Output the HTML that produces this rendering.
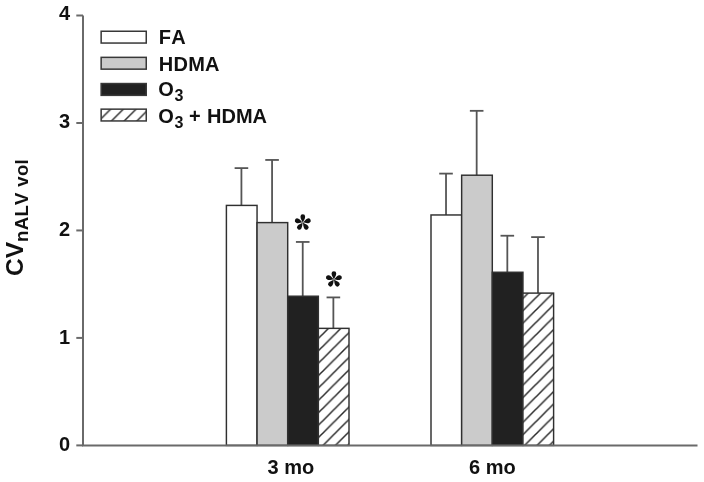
<!DOCTYPE html>
<html><head><meta charset="utf-8"><style>
html,body{margin:0;padding:0;background:#fff;}
svg{display:block;filter:blur(0.35px);}
text{font-family:"Liberation Sans", sans-serif;font-weight:bold;fill:#111;font-kerning:none;}
</style></head><body>
<svg width="704" height="482" viewBox="0 0 704 482">
<defs>
<pattern id="hatch3" patternUnits="userSpaceOnUse" x="12.0" y="0" width="12.4" height="12.4"><rect width="12.4" height="12.4" fill="#fff"/><path d="M-2,2 L2,-2 M-2,14.4 L14.4,-2 M10.4,14.4 L14.4,10.4" stroke="#2a2a2a" stroke-width="1.5"/></pattern>
<pattern id="hatch6" patternUnits="userSpaceOnUse" x="2.8" y="0" width="12.4" height="12.4"><rect width="12.4" height="12.4" fill="#fff"/><path d="M-2,2 L2,-2 M-2,14.4 L14.4,-2 M10.4,14.4 L14.4,10.4" stroke="#2a2a2a" stroke-width="1.5"/></pattern>
<pattern id="hatch2" patternUnits="userSpaceOnUse" x="3.9" y="0" width="12.7" height="12.7"><rect width="12.7" height="12.7" fill="#fff"/><path d="M-2,2 L2,-2 M-2,14.7 L14.7,-2 M10.7,14.7 L14.7,10.7" stroke="#2a2a2a" stroke-width="1.4"/></pattern>
<path id="petal" d="M0,0 C-0.4,-1.6 -2.35,-3.6 -2.35,-5.9 A2.35,2.35 0 0 1 2.35,-5.9 C2.35,-3.6 0.4,-1.6 0,0Z" fill="#111"/>
<g id="ast"><use href="#petal"/><use href="#petal" transform="rotate(72)"/><use href="#petal" transform="rotate(144)"/><use href="#petal" transform="rotate(216)"/><use href="#petal" transform="rotate(288)"/></g>
</defs>
<rect width="704" height="482" fill="#fff"/>

<line x1="241.42" y1="205.41" x2="241.42" y2="168.11" stroke="#555" stroke-width="1.8"/>
<line x1="234.62" y1="168.11" x2="248.22" y2="168.11" stroke="#555" stroke-width="1.8"/>
<rect x="226.40" y="205.41" width="30.65" height="239.99" fill="#ffffff" stroke="#303030" stroke-width="1.45"/>
<line x1="272.07" y1="222.60" x2="272.07" y2="159.95" stroke="#555" stroke-width="1.8"/>
<line x1="265.27" y1="159.95" x2="278.87" y2="159.95" stroke="#555" stroke-width="1.8"/>
<rect x="257.05" y="222.60" width="30.65" height="222.80" fill="#cbcbcb" stroke="#303030" stroke-width="1.45"/>
<line x1="302.72" y1="296.22" x2="302.72" y2="241.95" stroke="#555" stroke-width="1.8"/>
<line x1="295.92" y1="241.95" x2="309.52" y2="241.95" stroke="#555" stroke-width="1.8"/>
<rect x="287.70" y="296.22" width="30.65" height="149.18" fill="#212121" stroke="#303030" stroke-width="1.45"/>
<line x1="333.37" y1="328.36" x2="333.37" y2="297.41" stroke="#555" stroke-width="1.8"/>
<line x1="326.57" y1="297.41" x2="340.17" y2="297.41" stroke="#555" stroke-width="1.8"/>
<rect x="318.35" y="328.36" width="30.65" height="117.04" fill="url(#hatch3)" stroke="#303030" stroke-width="1.45"/>
<line x1="446.02" y1="214.97" x2="446.02" y2="173.60" stroke="#555" stroke-width="1.8"/>
<line x1="439.22" y1="173.60" x2="452.82" y2="173.60" stroke="#555" stroke-width="1.8"/>
<rect x="431.00" y="214.97" width="30.65" height="230.43" fill="#ffffff" stroke="#303030" stroke-width="1.45"/>
<line x1="476.67" y1="175.21" x2="476.67" y2="110.83" stroke="#555" stroke-width="1.8"/>
<line x1="469.87" y1="110.83" x2="483.47" y2="110.83" stroke="#555" stroke-width="1.8"/>
<rect x="461.65" y="175.21" width="30.65" height="270.19" fill="#cbcbcb" stroke="#303030" stroke-width="1.45"/>
<line x1="507.32" y1="272.26" x2="507.32" y2="235.72" stroke="#555" stroke-width="1.8"/>
<line x1="500.52" y1="235.72" x2="514.12" y2="235.72" stroke="#555" stroke-width="1.8"/>
<rect x="492.30" y="272.26" width="30.65" height="173.14" fill="#212121" stroke="#303030" stroke-width="1.45"/>
<line x1="537.98" y1="293.11" x2="537.98" y2="237.11" stroke="#555" stroke-width="1.8"/>
<line x1="531.18" y1="237.11" x2="544.78" y2="237.11" stroke="#555" stroke-width="1.8"/>
<rect x="522.95" y="293.11" width="30.65" height="152.29" fill="url(#hatch6)" stroke="#303030" stroke-width="1.45"/>
<use href="#ast" transform="translate(302.8,222.6)"/>
<use href="#ast" transform="translate(333.9,279.4)"/>
<line x1="83.0" y1="15.50" x2="83.0" y2="445.40" stroke="#6a6a6a" stroke-width="2"/>
<line x1="82.0" y1="445.4" x2="697.5" y2="445.4" stroke="#6a6a6a" stroke-width="2"/>
<line x1="76.3" y1="445.40" x2="83.0" y2="445.40" stroke="#6a6a6a" stroke-width="2"/>
<text x="70.1" y="451.00" font-size="20" text-anchor="end">0</text>
<line x1="76.3" y1="337.92" x2="83.0" y2="337.92" stroke="#6a6a6a" stroke-width="2"/>
<text x="70.1" y="343.52" font-size="20" text-anchor="end">1</text>
<line x1="76.3" y1="230.45" x2="83.0" y2="230.45" stroke="#6a6a6a" stroke-width="2"/>
<text x="70.1" y="235.85" font-size="20" text-anchor="end">2</text>
<line x1="76.3" y1="122.98" x2="83.0" y2="122.98" stroke="#6a6a6a" stroke-width="2"/>
<text x="70.1" y="127.98" font-size="20" text-anchor="end">3</text>
<line x1="76.3" y1="15.50" x2="83.0" y2="15.50" stroke="#6a6a6a" stroke-width="2"/>
<text x="70.1" y="20.10" font-size="20" text-anchor="end">4</text>
<text x="290.8" y="474.0" font-size="20" text-anchor="middle">3 mo</text>
<text x="492.4" y="474.0" font-size="20" text-anchor="middle">6 mo</text>
<text transform="translate(23.2,276.0) rotate(-90)" font-size="24.5">CV<tspan font-size="18.6" dy="4.6" letter-spacing="0.3">nALV vol</tspan></text>
<rect x="101.15" y="31.25" width="45.1" height="11.8" fill="#ffffff" stroke="#383838" stroke-width="1.5"/>
<text x="158.8" y="44.20" font-size="20"><tspan letter-spacing="0.3">FA</tspan></text>
<rect x="101.15" y="57.35" width="45.1" height="11.8" fill="#cbcbcb" stroke="#383838" stroke-width="1.5"/>
<text x="158.8" y="70.60" font-size="20"><tspan letter-spacing="0.25">HDMA</tspan></text>
<rect x="101.15" y="83.55" width="45.1" height="11.8" fill="#212121" stroke="#383838" stroke-width="1.5"/>
<text x="158.2" y="96.20" font-size="20">O<tspan font-size="16" dx="0.8" dy="5.2">3</tspan></text>
<rect x="101.15" y="109.15" width="45.1" height="11.8" fill="url(#hatch2)" stroke="#383838" stroke-width="1.5"/>
<text x="158.2" y="122.60" font-size="20">O<tspan font-size="16" dx="0.8" dy="5.2">3</tspan><tspan x="188.9" dy="-5.2">+</tspan><tspan x="207.0">HDMA</tspan></text>
</svg>
</body></html>
